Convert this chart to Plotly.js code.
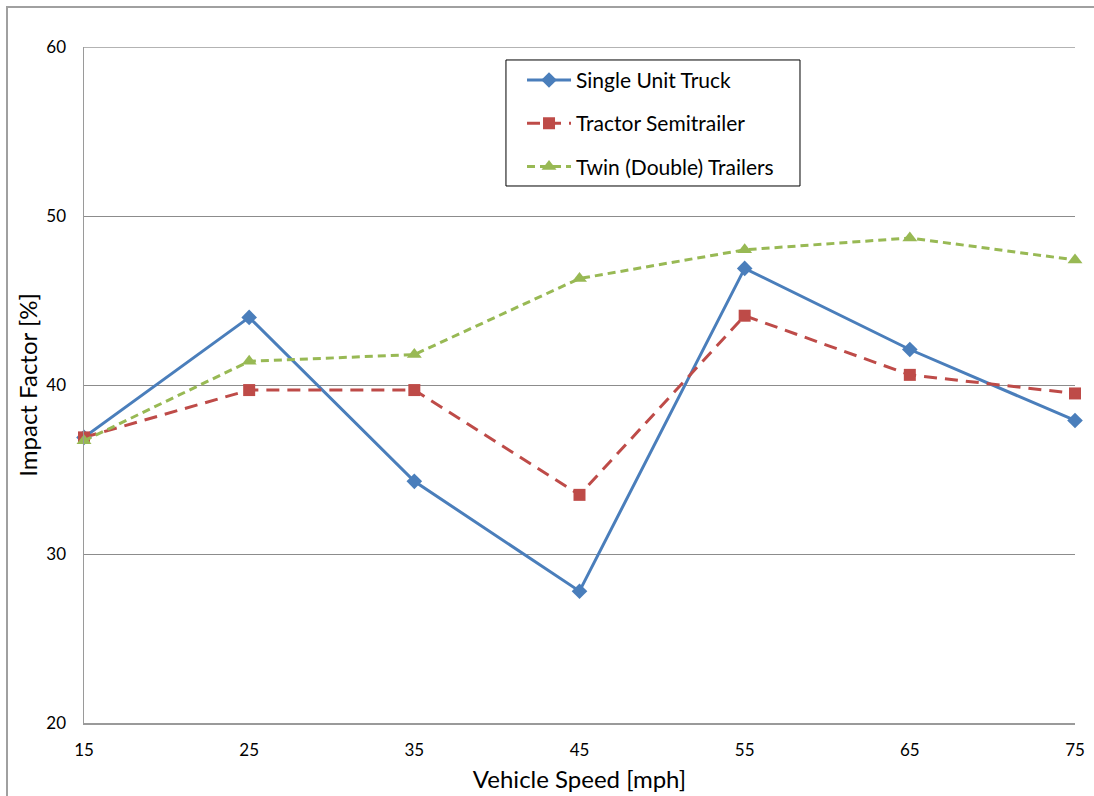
<!DOCTYPE html>
<html>
<head>
<meta charset="utf-8">
<script src="https://cdn.plot.ly/plotly-3.0.1.min.js"></script>
<style>
html,body{margin:0;padding:0;background:#fff;}
#wrap{position:relative;width:1094px;height:796px;overflow:hidden;}
#chart{width:1094px;height:796px;}
#frame{position:absolute;left:6px;top:6px;width:1100px;height:800px;border:2px solid #a0a0a0;pointer-events:none;}
</style>
</head>
<body>
<div id="wrap"><div id="chart"></div><div id="frame"></div></div>
<script>
var speeds = [15, 25, 35, 45, 55, 65, 75];
var singleUnitTruck = [36.9, 44.0, 34.3, 27.8, 46.9, 42.1, 37.9];
var tractorSemitrailer = [36.9, 39.7, 39.7, 33.5, 44.1, 40.6, 39.5];
var twinTrailers = [36.7, 41.4, 41.8, 46.3, 48.0, 48.7, 47.4];
var seriesNames = ['Single Unit Truck', 'Tractor Semitrailer', 'Twin (Double) Trailers'];
var yTicks = [20, 30, 40, 50, 60];

var FONT = 'Lato, "Open Sans", sans-serif';

var traces = [
  {x: speeds, y: singleUnitTruck, name: seriesNames[0], legendgroup: 'a', mode: 'lines+markers', cliponaxis: false,
   line: {color: '#4a7ebb', width: 3}, marker: {symbol: 'diamond', size: 12, color: '#4a7ebb'}},
  {x: speeds, y: tractorSemitrailer, name: seriesNames[1], legendgroup: 'b', mode: 'lines+markers', cliponaxis: false,
   line: {color: '#be4b48', width: 3, dash: '13px,8px'}, marker: {symbol: 'square', size: 12, color: '#be4b48'}},
  {x: speeds, y: twinTrailers, name: seriesNames[2], legendgroup: 'c', mode: 'lines+markers', cliponaxis: false,
   line: {color: '#98b954', width: 3, dash: '8px,5px'}, marker: {symbol: 'triangle-up', size: 13, color: '#98b954'}}
];

var layout = {
  width: 1094, height: 796,
  margin: {l: 84, r: 19, t: 47, b: 73},
  paper_bgcolor: '#fff', plot_bgcolor: '#fff',
  font: {family: FONT, color: '#000', size: 14},
  showlegend: true,
  legend: {x: 0.442, y: 0.981, xanchor: 'left', yanchor: 'top', bgcolor: 'rgba(0,0,0,0)',
    borderwidth: 0, font: {family: FONT, size: 21, color: '#000'},
    tracegroupgap: 13, traceorder: 'grouped', itemwidth: 44},
  xaxis: {range: [15, 75], tickvals: speeds, ticktext: speeds.map(String),
    showgrid: false, zeroline: false, showline: true, linecolor: '#9a9a9a', linewidth: 1.5,
    ticks: '', ticklen: 0, tickfont: {size: 17}, ticklabelstandoff: 11,
    title: {text: 'Vehicle Speed [mph]', font: {size: 24}, standoff: 12}},
  yaxis: {range: [20, 60], tickvals: yTicks, showgrid: true, gridcolor: '#8c8c8c', gridwidth: 1,
    zeroline: false, showline: true, linecolor: '#9a9a9a', linewidth: 1.5, mirror: false,
    ticks: '', tickfont: {size: 17}, ticklabelstandoff: 13,
    title: {text: 'Impact Factor [%]', font: {size: 24}, standoff: 2}},
  shapes: [
    {type: 'line', xref: 'paper', yref: 'y', x0: 0, x1: 1, y0: 60, y1: 60,
     line: {color: '#9a9a9a', width: 1.5}},
    {type: 'rect', xref: 'paper', yref: 'paper', x0: 0.4258, x1: 0.7225, y0: 0.7944, y1: 0.9808,
     line: {color: '#000', width: 1}, fillcolor: 'rgba(0,0,0,0)', layer: 'above'}
  ]
};

Plotly.newPlot('chart', traces, layout, {displayModeBar: false, staticPlot: true});
</script>
</body>
</html>
